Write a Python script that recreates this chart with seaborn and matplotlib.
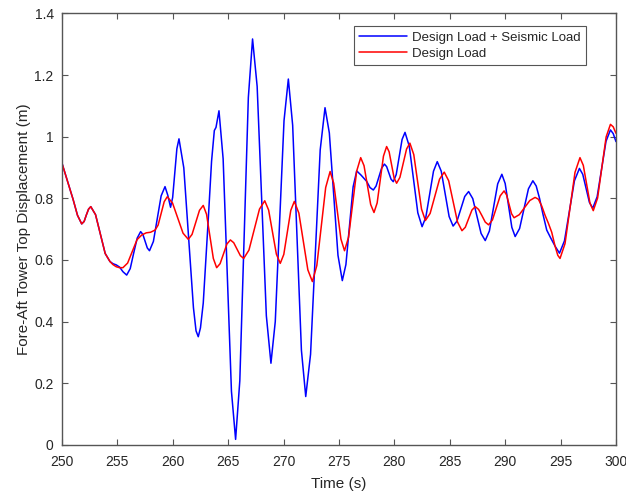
import matplotlib
matplotlib.use("Agg")
import matplotlib.pyplot as plt
import seaborn as sns
import pandas as pd

# Design Load + Seismic Load (blue)
t_seismic = [250.0, 250.5, 251.0, 251.4, 251.78, 252.0, 252.19, 252.4, 252.6, 253.03, 253.47, 253.9,
             254.33, 254.6, 254.9, 255.2, 255.5, 255.84, 256.16, 256.47, 256.79, 257.1, 257.3, 257.5,
             257.7, 257.9, 258.25, 258.6, 258.95, 259.3, 259.55, 259.8, 259.99, 260.18, 260.37, 260.56,
             260.995, 261.43, 261.865, 262.1, 262.3, 262.5, 262.75, 263.2, 263.5, 263.75, 263.9, 264.17,
             264.545, 264.92, 265.295, 265.67, 266.05, 266.435, 266.82, 267.2, 267.615, 268.03, 268.445,
             268.86, 269.25, 269.645, 270.04, 270.43, 270.82, 271.215, 271.61, 272.0, 272.435, 272.87,
             273.305, 273.74, 274.13, 274.52, 274.91, 275.3, 275.625, 275.95, 276.275, 276.6, 277.0,
             277.5, 277.8, 278.1, 278.35, 278.6, 278.85, 279.1, 279.3, 279.5, 279.7, 279.9, 280.165,
             280.43, 280.695, 280.96, 281.345, 281.73, 282.115, 282.5, 282.84, 283.185, 283.53, 283.87,
             284.23, 284.585, 284.94, 285.3, 285.65, 286.0, 286.35, 286.7, 287.075, 287.45, 287.825,
             288.2, 288.575, 288.95, 289.325, 289.7, 290.0, 290.3, 290.6, 290.9, 291.3, 291.7, 292.1,
             292.5, 292.8, 293.1, 293.4, 293.75, 294.1, 294.5, 294.9, 295.35, 295.8, 296.25, 296.7,
             297.0, 297.3, 297.6, 297.9, 298.3, 298.7, 299.1, 299.5, 299.75, 300.0]
v_seismic = [0.914, 0.855, 0.797, 0.745, 0.717, 0.725, 0.745, 0.765, 0.773, 0.747, 0.684, 0.621,
             0.595, 0.588, 0.584, 0.577, 0.562, 0.551, 0.572, 0.622, 0.671, 0.692, 0.683, 0.661,
             0.639, 0.630, 0.660, 0.734, 0.808, 0.838, 0.810, 0.771, 0.803, 0.882, 0.961, 0.993,
             0.899, 0.672, 0.445, 0.370, 0.351, 0.380, 0.460, 0.730, 0.920, 1.020, 1.030, 1.084,
             0.928, 0.551, 0.174, 0.018, 0.208, 0.668, 1.127, 1.317, 1.163, 0.791, 0.419,
             0.265, 0.400, 0.726, 1.052, 1.187, 1.037, 0.672, 0.307, 0.157, 0.294, 0.626,
             0.957, 1.094, 1.012, 0.814, 0.615, 0.533, 0.585, 0.711, 0.837, 0.889, 0.875,
             0.855, 0.835, 0.827, 0.840, 0.869, 0.898, 0.911, 0.903, 0.882, 0.862, 0.854, 0.877,
             0.934, 0.991, 1.014, 0.969, 0.861, 0.753, 0.708, 0.739, 0.814, 0.888, 0.919,
             0.888, 0.815, 0.741, 0.710, 0.726, 0.766, 0.806, 0.822, 0.799, 0.743, 0.686,
             0.663, 0.694, 0.771, 0.847, 0.878, 0.848, 0.777, 0.706, 0.676, 0.702, 0.767, 0.831,
             0.857, 0.840, 0.800, 0.750, 0.697, 0.672, 0.645, 0.622, 0.662, 0.760, 0.857, 0.897,
             0.878, 0.833, 0.787, 0.768, 0.805, 0.895, 0.985, 1.022, 1.010, 0.984]

# Design Load (red)
t_design = [250.0, 250.5, 251.0, 251.4, 251.78, 252.0, 252.19, 252.4, 252.6, 253.03, 253.47, 253.9,
            254.33, 254.6, 254.9, 255.2, 255.5, 255.925, 256.35, 256.775, 257.2, 257.6, 258.0, 258.4,
            258.675, 258.95, 259.225, 259.5, 259.975, 260.45, 260.925, 261.4, 261.74, 262.075, 262.41,
            262.75, 263.05, 263.355, 263.66, 263.96, 264.27, 264.58, 264.89, 265.2, 265.5, 265.8, 266.1,
            266.4, 266.875, 267.35, 267.825, 268.3, 268.65, 269.0, 269.35, 269.7, 270.02, 270.335,
            270.65, 270.97, 271.38, 271.785, 272.19, 272.6, 273.0, 273.4, 273.8, 274.2, 274.525,
            274.85, 275.175, 275.5, 275.865, 276.23, 276.595, 276.96, 277.26, 277.56, 277.86, 278.16,
            278.445, 278.73, 279.015, 279.3, 279.525, 279.75, 279.975, 280.2, 280.5, 280.8, 281.1,
            281.4, 281.75, 282.1, 282.45, 282.8, 283.225, 283.65, 284.075, 284.5, 284.9, 285.3, 285.7,
            286.1, 286.4, 286.7, 287.0, 287.3, 287.6, 287.9, 288.2, 288.5, 288.85, 289.2, 289.55,
            289.9, 290.125, 290.35, 290.575, 290.8, 291.275, 291.75, 292.225, 292.7, 293.0, 293.3,
            293.6, 293.9, 294.2, 294.5, 294.75, 294.95, 295.4, 295.85, 296.3, 296.75, 297.05, 297.35,
            297.65, 297.95, 298.34, 298.725, 299.11, 299.5, 299.75, 300.0]
v_design = [0.914, 0.855, 0.797, 0.745, 0.717, 0.725, 0.745, 0.765, 0.773, 0.747, 0.684, 0.621,
            0.595, 0.585, 0.578, 0.575, 0.575, 0.590, 0.628, 0.666, 0.681, 0.688, 0.690, 0.697,
            0.713, 0.751, 0.789, 0.805, 0.785, 0.736, 0.687, 0.667, 0.683, 0.722, 0.761,
            0.777, 0.748, 0.676, 0.605, 0.575, 0.588, 0.620, 0.652, 0.665, 0.656, 0.635, 0.614,
            0.605, 0.632, 0.699, 0.765, 0.792, 0.762, 0.691, 0.619, 0.589, 0.618, 0.690,
            0.761, 0.790, 0.752, 0.660, 0.568, 0.530, 0.582, 0.709, 0.835, 0.887, 0.849,
            0.759, 0.668, 0.630, 0.674, 0.781, 0.888, 0.932, 0.906, 0.843, 0.780, 0.754,
            0.785, 0.861, 0.937, 0.968, 0.951, 0.909, 0.866, 0.849, 0.868, 0.914, 0.960,
            0.979, 0.942, 0.854, 0.765, 0.728, 0.751, 0.807, 0.862, 0.885, 0.857, 0.790, 0.723,
            0.695, 0.706, 0.734, 0.762, 0.773, 0.764, 0.744, 0.723, 0.714, 0.730, 0.769, 0.808,
            0.824, 0.811, 0.781, 0.750, 0.737, 0.747, 0.770, 0.793, 0.803, 0.797, 0.775,
            0.745, 0.719, 0.690, 0.645, 0.615, 0.605, 0.653, 0.769, 0.884, 0.932, 0.907, 0.846,
            0.785, 0.760, 0.801, 0.900, 0.999, 1.040, 1.032, 1.011]

x_ticks = [250, 255, 260, 265, 270, 275, 280, 285, 290, 295, 300]
y_ticks = [0, 0.2, 0.4, 0.6, 0.8, 1.0, 1.2, 1.4]
y_tick_labels = ["0", "0.2", "0.4", "0.6", "0.8", "1", "1.2", "1.4"]

sns.set_style("white")
plt.rcParams["font.family"] = ["Liberation Sans", "DejaVu Sans"]

fig = plt.figure(figsize=(6.26, 4.96), dpi=100)
ax = fig.add_axes([0.099, 0.103, 0.885, 0.870])

df_s = pd.DataFrame({"t": t_seismic, "v": v_seismic})
df_d = pd.DataFrame({"t": t_design, "v": v_design})
sns.lineplot(data=df_s, x="t", y="v", ax=ax, color="#0000ff", lw=1.1, sort=False,
             label="Design Load + Seismic Load")
sns.lineplot(data=df_d, x="t", y="v", ax=ax, color="#ff0000", lw=1.1, sort=False,
             label="Design Load")

ax.set_xlim(250, 300)
ax.set_ylim(0, 1.4)
ax.set_xticks(x_ticks)
ax.set_yticks(y_ticks)
ax.set_yticklabels(y_tick_labels)
ax.set_xlabel("Time (s)", fontsize=11, color="#262626", labelpad=6)
ax.set_ylabel("Fore-Aft Tower Top Displacement (m)", fontsize=11, color="#262626", labelpad=2)

for sp in ax.spines.values():
    sp.set_visible(True)
    sp.set_color("#555555")
    sp.set_linewidth(1.0)
ax.tick_params(direction="in", length=4, width=0.8, colors="#555555", labelcolor="#262626",
               labelsize=10, top=True, right=True, bottom=True, left=True)
ax.tick_params(axis="x", pad=7)
ax.tick_params(axis="y", pad=6)

leg = ax.legend(loc="upper right", bbox_to_anchor=(0.958, 0.985), fontsize=9.5, frameon=True,
                fancybox=False, edgecolor="#555555", framealpha=1, borderpad=0.4,
                handlelength=3.6, labelspacing=0.25, handletextpad=0.4)
leg.get_frame().set_linewidth(0.8)

fig.savefig("out.png", dpi=100)
